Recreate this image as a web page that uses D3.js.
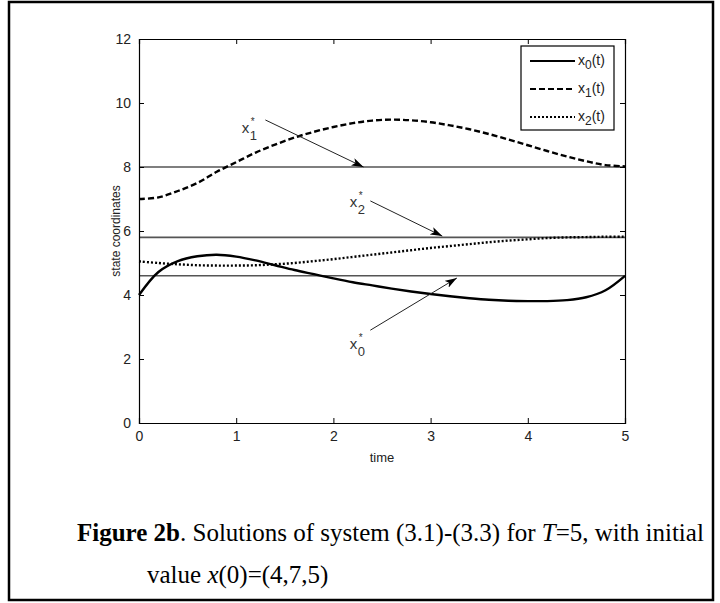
<!DOCTYPE html>
<html><head><meta charset="utf-8">
<script src="https://cdn.jsdelivr.net/npm/d3@7"></script>
<style>body{margin:0;background:#fff}svg{display:block}</style>
</head><body>
<svg id="c" width="720" height="603"></svg>
<script>
const time = [0,0.2,0.4,0.6,0.8,1.0,1.2,1.4,1.6,1.8,2.0,2.2,2.4,2.6,2.8,3.0,3.2,3.4,3.6,3.8,4.0,4.2,4.4,4.6,4.8,5.0];
const x0 = [4.0,4.72,5.06,5.21,5.26,5.2,5.08,4.93,4.78,4.65,4.52,4.4,4.3,4.2,4.11,4.03,3.96,3.9,3.85,3.82,3.81,3.81,3.84,3.93,4.15,4.6];
const x1 = [7.0,7.05,7.25,7.5,7.85,8.15,8.45,8.7,8.92,9.1,9.25,9.37,9.45,9.48,9.46,9.4,9.3,9.18,9.03,8.86,8.68,8.5,8.33,8.18,8.06,8.02];
const x2 = [5.05,5.0,4.96,4.93,4.92,4.92,4.93,4.96,5.0,5.06,5.12,5.19,5.26,5.33,5.4,5.47,5.53,5.59,5.65,5.7,5.74,5.78,5.8,5.81,5.82,5.82];
const equilibria = [8.0, 5.8, 4.6];
const xTicks = [0,1,2,3,4,5];
const yTicks = [0,2,4,6,8,10,12];
const seriesNames = ["0","1","2"];
const annLabels = [
  {sub:"1", lt:1.14, lv:9.2, from:[1.3,9.47], to:[2.31,8.0]},
  {sub:"2", lt:2.25, lv:6.88, from:[2.38,6.94], to:[3.12,5.84]},
  {sub:"0", lt:2.25, lv:2.44, from:[2.38,2.9], to:[3.27,4.53]}
];

const svg = d3.select("#c");
const L=139, R=625, T=39, B=423;
const x = d3.scaleLinear().domain([0,5]).range([L,R]);
const y = d3.scaleLinear().domain([0,12]).range([B,T]);

svg.append("rect").attr("x",9).attr("y",2).attr("width",704).attr("height",598)
  .attr("fill","none").attr("stroke","#000").attr("stroke-width",2.5);

const defs = svg.append("defs");
defs.append("marker").attr("id","ah").attr("viewBox","0 0 12 8").attr("refX",12).attr("refY",4)
  .attr("markerWidth",12).attr("markerHeight",8).attr("markerUnits","userSpaceOnUse").attr("orient","auto")
  .append("path").attr("d","M0,0L12,4L0,8L3,4Z").attr("fill","#000");

const fontAx = "'Liberation Sans', Arial, sans-serif";

svg.selectAll("line.eq").data(equilibria).enter().append("line")
  .attr("x1",x(0)).attr("x2",x(5)).attr("y1",d=>y(d)).attr("y2",d=>y(d))
  .attr("stroke","#555").attr("stroke-width",1.6);

const line = d3.line().x((d,i)=>x(time[i])).y(d=>y(d)).curve(d3.curveCatmullRom);
const styles = [
  {data:x0, dash:null},
  {data:x1, dash:"6,3"},
  {data:x2, dash:"2,2"}
];
styles.forEach(s=>{
  svg.append("path").attr("d",line(s.data)).attr("fill","none").attr("stroke","#000")
    .attr("stroke-width",2.4).attr("stroke-dasharray",s.dash);
});

const axB = d3.axisBottom(x).tickValues(xTicks).tickSize(-5).tickPadding(8).tickFormat(d3.format("d"));
const axT = d3.axisTop(x).tickValues(xTicks).tickSize(-5).tickFormat("");
const axLft = d3.axisLeft(y).tickValues(yTicks).tickSize(-5).tickPadding(8).tickFormat(d3.format("d"));
const axRt = d3.axisRight(y).tickValues(yTicks).tickSize(-5).tickFormat("");
const gB = svg.append("g").attr("transform",`translate(0,${B})`).call(axB);
const gT = svg.append("g").attr("transform",`translate(0,${T})`).call(axT);
const gL = svg.append("g").attr("transform",`translate(${L},0)`).call(axLft);
const gR = svg.append("g").attr("transform",`translate(${R},0)`).call(axRt);
[gB,gT,gL,gR].forEach(g=>{
  g.attr("font-size",14).attr("font-family",fontAx);
  g.select(".domain").attr("stroke","#000").attr("stroke-width",1.2);
  g.selectAll(".tick line").attr("stroke","#000");
  g.selectAll("text").attr("fill","#222");
});

svg.append("text").attr("x",(L+R)/2).attr("y",462).attr("text-anchor","middle")
  .attr("font-family",fontAx).attr("font-size",13).attr("fill","#222").text("time");
svg.append("text").attr("transform",`translate(120,${(T+B)/2}) rotate(-90)`).attr("text-anchor","middle")
  .attr("font-family",fontAx).attr("font-size",12).attr("fill","#222").text("state coordinates");

annLabels.forEach(a=>{
  svg.append("line").attr("x1",x(a.from[0])).attr("y1",y(a.from[1]))
    .attr("x2",x(a.to[0])).attr("y2",y(a.to[1]))
    .attr("stroke","#222").attr("stroke-width",1).attr("marker-end","url(#ah)");
  const lx = x(a.lt), ly = y(a.lv);
  svg.append("text").attr("x",lx-8).attr("y",ly+4).attr("font-family",fontAx).attr("font-size",15)
    .attr("fill","#333").text("x");
  svg.append("text").attr("x",lx+1).attr("y",ly-4).attr("font-family",fontAx).attr("font-size",10)
    .attr("fill","#333").text("*");
  svg.append("text").attr("x",lx).attr("y",ly+11).attr("font-family",fontAx).attr("font-size",13)
    .attr("fill","#333").text(a.sub);
});

const lg = svg.append("g");
lg.append("rect").attr("x",521).attr("y",46).attr("width",93).attr("height",84)
  .attr("fill","#fff").attr("stroke","#000").attr("stroke-width",1.2);
const rows = [61,89,117];
styles.forEach((s,i)=>{
  lg.append("line").attr("x1",530).attr("x2",575).attr("y1",rows[i]).attr("y2",rows[i])
    .attr("stroke","#000").attr("stroke-width",2).attr("stroke-dasharray",s.dash);
  const t = lg.append("text").attr("x",578).attr("y",rows[i]+4).attr("font-family",fontAx)
    .attr("font-size",14).attr("fill","#222");
  t.append("tspan").text("x");
  t.append("tspan").attr("dy",4).attr("font-size",12).text(seriesNames[i]);
  t.append("tspan").attr("dy",-4).text("(t)");
});

const fontCap = "'Liberation Serif', 'Times New Roman', serif";
const c1 = svg.append("text").attr("x",77).attr("y",541).attr("font-family",fontCap).attr("font-size",25).attr("fill","#000");
c1.append("tspan").attr("font-weight","bold").text("Figure 2b");
c1.append("tspan").text(". Solutions of system (3.1)-(3.3) for ");
c1.append("tspan").attr("font-style","italic").text("T");
c1.append("tspan").text("=5, with initial");
const c2 = svg.append("text").attr("x",147).attr("y",583).attr("font-family",fontCap).attr("font-size",25).attr("fill","#000");
c2.append("tspan").text("value ");
c2.append("tspan").attr("font-style","italic").text("x");
c2.append("tspan").text("(0)=(4,7,5)");
</script>
</body></html>
